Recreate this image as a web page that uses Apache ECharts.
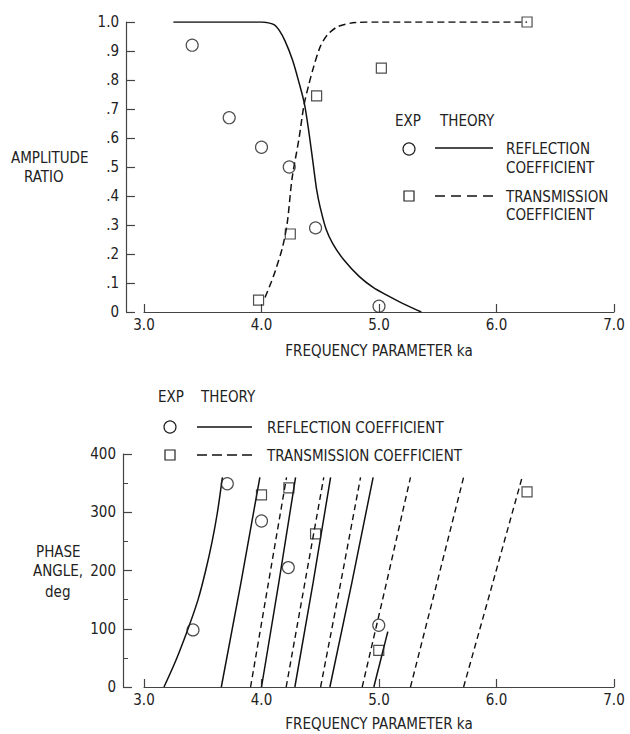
<!DOCTYPE html>
<html>
<head>
<meta charset="utf-8">
<script src="https://cdn.jsdelivr.net/npm/echarts@6/dist/echarts.min.js"></script>
<style>
html,body{margin:0;padding:0;background:#fff;}
#c{width:630px;height:734px;}
</style>
</head>
<body>
<div id="c"></div>
<script>
// ---------- DATA ----------
var xTickLabels = ['3.0', '4.0', '5.0', '6.0', '7.0'];
var ampTickLabels = ['0', '.1', '.2', '.3', '.4', '.5', '.6', '.7', '.8', '.9', '1.0'];
var phaseTickLabels = ['0', '100', '200', '300', '400'];

// Amplitude ratio: experiment
var ampReflExp = [[3.41, 0.92], [3.725, 0.67], [4.0, 0.568], [4.236, 0.50], [4.46, 0.29], [5.0, 0.02]];
var ampTransExp = [[3.975, 0.041], [4.245, 0.269], [4.469, 0.745], [5.02, 0.841], [6.26, 1.0]];
// Amplitude ratio: theory
var ampReflTheory = [[3.25, 1.0], [4.0, 1.0], [4.06, 0.997], [4.11, 0.99], [4.15, 0.972], [4.2, 0.935],
  [4.264, 0.869], [4.32, 0.79], [4.364, 0.72], [4.40, 0.63], [4.44, 0.51], [4.47, 0.42],
  [4.50, 0.36], [4.55, 0.285], [4.605, 0.237], [4.7, 0.18], [4.833, 0.122], [4.95, 0.085],
  [5.09, 0.053], [5.2, 0.03], [5.36, 0.0]];
var ampTransTheory = [[4.03, 0.05], [4.08, 0.1], [4.12, 0.145], [4.18, 0.225], [4.22, 0.31], [4.26, 0.46],
  [4.32, 0.6], [4.36, 0.71], [4.40, 0.78], [4.44, 0.84], [4.5, 0.915], [4.56, 0.955], [4.65, 0.984],
  [4.8, 0.998], [5.0, 1.0], [6.26, 1.0]];

// Phase angle: experiment
var phaseReflExp = [[3.417, 98], [3.709, 349], [4.0, 285], [4.228, 205], [4.998, 106]];
var phaseTransExp = [[4.0, 330], [4.233, 342], [4.46, 263], [4.998, 63], [6.26, 335]];
// Phase angle: theory branches (wrapping every 360 deg)
var phaseReflTheory1 = [[3.17, 0], [3.27, 45], [3.375, 100], [3.46, 150], [3.525, 200], [3.58, 250], [3.625, 300], [3.667, 360]];
var phaseReflTheory2 = [[3.658, 0], [3.826, 180], [3.986, 360]];
var phaseReflTheory3 = [[4.0, 0], [4.148, 180], [4.29, 360]];
var phaseReflTheory4 = [[4.284, 0], [4.44, 180], [4.588, 360]];
var phaseReflTheory5 = [[4.582, 0], [4.77, 180], [4.95, 360]];
var phaseReflTheory6 = [[4.956, 0], [5.075, 95]];
var phaseTransTheory1 = [[3.907, 0], [4.06, 180], [4.213, 360]];
var phaseTransTheory2 = [[4.21, 0], [4.37, 180], [4.53, 360]];
var phaseTransTheory3 = [[4.503, 0], [4.675, 180], [4.843, 360]];
var phaseTransTheory4 = [[4.857, 0], [5.065, 180], [5.268, 360]];
var phaseTransTheory5 = [[5.268, 0], [5.495, 180], [5.72, 360]];
var phaseTransTheory6 = [[5.72, 0], [5.97, 180], [6.218, 360]];

// ---------- STYLE ----------
var FONT = "'DejaVu Sans Condensed', 'Liberation Sans Narrow', 'DejaVu Sans', sans-serif";
var INK = '#222';
var AX = '#444';
var FS = 15;

var chart = echarts.init(document.getElementById('c'), null, {renderer: 'svg'});

function xAxisCfg(gridIndex, gap) {
  return {
    type: 'value', gridIndex: gridIndex, min: 3, max: 7, interval: 1,
    name: 'FREQUENCY PARAMETER ka', nameLocation: 'middle', nameGap: gap,
    nameTextStyle: {color: INK, fontFamily: FONT, fontSize: FS},
    axisLine: {show: true, lineStyle: {color: AX, width: 1.2}},
    axisTick: {show: true, inside: true, length: 8, lineStyle: {color: AX, width: 1.2}},
    axisLabel: {color: INK, fontFamily: FONT, fontSize: FS, margin: 5,
      formatter: function (v, i) { return xTickLabels[i]; }},
    splitLine: {show: false}
  };
}

var lineStyleSolid = {color: '#111', width: 1.5, type: 'solid'};
var lineStyleDashTop = {color: '#111', width: 1.5, type: [7, 4]};
var lineStyleDashBot = {color: '#111', width: 1.4, type: [6, 4]};
var markerStyle = {color: 'rgba(255,255,255,0)', borderColor: '#222', borderWidth: 1.2};

function lineSeries(data, xi, yi, style, smooth) {
  return {type: 'line', xAxisIndex: xi, yAxisIndex: yi, data: data, showSymbol: false,
    smooth: smooth || false, lineStyle: style, z: 2, silent: true};
}
function scatterSeries(data, xi, yi, symbol, size) {
  return {type: 'scatter', xAxisIndex: xi, yAxisIndex: yi, data: data, symbol: symbol,
    symbolSize: size, itemStyle: markerStyle, z: 3, silent: true};
}

var series = [
  lineSeries(ampReflTheory, 0, 0, lineStyleSolid, 0.3),
  lineSeries(ampTransTheory, 0, 0, lineStyleDashTop, 0.3),
  scatterSeries(ampReflExp, 0, 0, 'circle', 12),
  scatterSeries(ampTransExp, 0, 0, 'rect', 10)
];
series.push(lineSeries(phaseReflTheory1, 1, 1, lineStyleSolid, 0.3));
[phaseReflTheory2, phaseReflTheory3, phaseReflTheory4, phaseReflTheory5, phaseReflTheory6]
  .forEach(function (d) { series.push(lineSeries(d, 1, 1, lineStyleSolid, false)); });
[phaseTransTheory1, phaseTransTheory2, phaseTransTheory3, phaseTransTheory4, phaseTransTheory5, phaseTransTheory6]
  .forEach(function (d) { series.push(lineSeries(d, 1, 1, lineStyleDashBot, false)); });
series.push(scatterSeries(phaseReflExp, 1, 1, 'circle', 12));
series.push(scatterSeries(phaseTransExp, 1, 1, 'rect', 10));

function gtext(x, y, s) {
  return {type: 'text', x: x, y: y, style: {text: s, fill: INK, fontFamily: FONT, fontSize: FS,
    align: 'left', verticalAlign: 'middle'}};
}

var graphics = [
  // top y-axis name
  gtext(11, 158, 'AMPLITUDE'),
  gtext(24, 177, 'RATIO'),
  // top legend
  gtext(395, 121, 'EXP'),
  gtext(440, 121, 'THEORY'),
  {type: 'circle', shape: {cx: 409, cy: 149, r: 6}, style: {fill: 'none', stroke: '#222', lineWidth: 1.2}},
  {type: 'line', shape: {x1: 435, y1: 148, x2: 493, y2: 148}, style: {stroke: '#111', lineWidth: 1.5}},
  gtext(506, 149, 'REFLECTION'),
  gtext(506, 168, 'COEFFICIENT'),
  {type: 'rect', shape: {x: 404, y: 191, width: 10, height: 10}, style: {fill: 'none', stroke: '#222', lineWidth: 1.2}},
  {type: 'line', shape: {x1: 435, y1: 196, x2: 493, y2: 196}, style: {stroke: '#111', lineWidth: 1.5, lineDash: [10, 6]}},
  gtext(506, 197, 'TRANSMISSION'),
  gtext(506, 215, 'COEFFICIENT'),
  // bottom legend
  gtext(158, 397, 'EXP'),
  gtext(201, 397, 'THEORY'),
  {type: 'circle', shape: {cx: 170, cy: 427, r: 6}, style: {fill: 'none', stroke: '#222', lineWidth: 1.2}},
  {type: 'line', shape: {x1: 197, y1: 427, x2: 252, y2: 427}, style: {stroke: '#111', lineWidth: 1.5}},
  gtext(267, 428, 'REFLECTION COEFFICIENT'),
  {type: 'rect', shape: {x: 165, y: 450, width: 10, height: 10}, style: {fill: 'none', stroke: '#222', lineWidth: 1.2}},
  {type: 'line', shape: {x1: 197, y1: 455, x2: 252, y2: 455}, style: {stroke: '#111', lineWidth: 1.5, lineDash: [10, 5]}},
  gtext(267, 456, 'TRANSMISSION COEFFICIENT'),
  // bottom y-axis name
  gtext(36, 552, 'PHASE'),
  gtext(33, 571, 'ANGLE,'),
  gtext(45, 592, 'deg')
];

var option = {
  animation: false,
  backgroundColor: '#fff',
  grid: [
    {left: 144, right: 16, top: 22, bottom: 422, containLabel: false},
    {left: 144, right: 16, top: 454, bottom: 47, containLabel: false}
  ],
  xAxis: [xAxisCfg(0, 31), xAxisCfg(1, 29)],
  yAxis: [
    {
      type: 'value', gridIndex: 0, min: 0, max: 1, interval: 0.1, offset: 18,
      axisLine: {show: true, onZero: false, lineStyle: {color: AX, width: 1.2}},
      axisTick: {show: true, inside: true, length: 9, lineStyle: {color: AX, width: 1.2}},
      axisLabel: {color: INK, fontFamily: FONT, fontSize: FS, margin: 7,
        formatter: function (v, i) { return ampTickLabels[i]; }},
      splitLine: {show: false}
    },
    {
      type: 'value', gridIndex: 1, min: 0, max: 400, interval: 100, offset: 21,
      axisLine: {show: true, onZero: false, lineStyle: {color: AX, width: 1.2}},
      axisTick: {show: true, inside: true, length: 9, lineStyle: {color: AX, width: 1.2}},
      minorTick: {show: true, splitNumber: 2, length: 5, lineStyle: {color: AX, width: 1}},
      axisLabel: {color: INK, fontFamily: FONT, fontSize: FS, margin: 7,
        formatter: function (v, i) { return phaseTickLabels[i]; }},
      splitLine: {show: false}
    }
  ],
  graphic: graphics,
  series: series
};
chart.setOption(option);
</script>
</body>
</html>
